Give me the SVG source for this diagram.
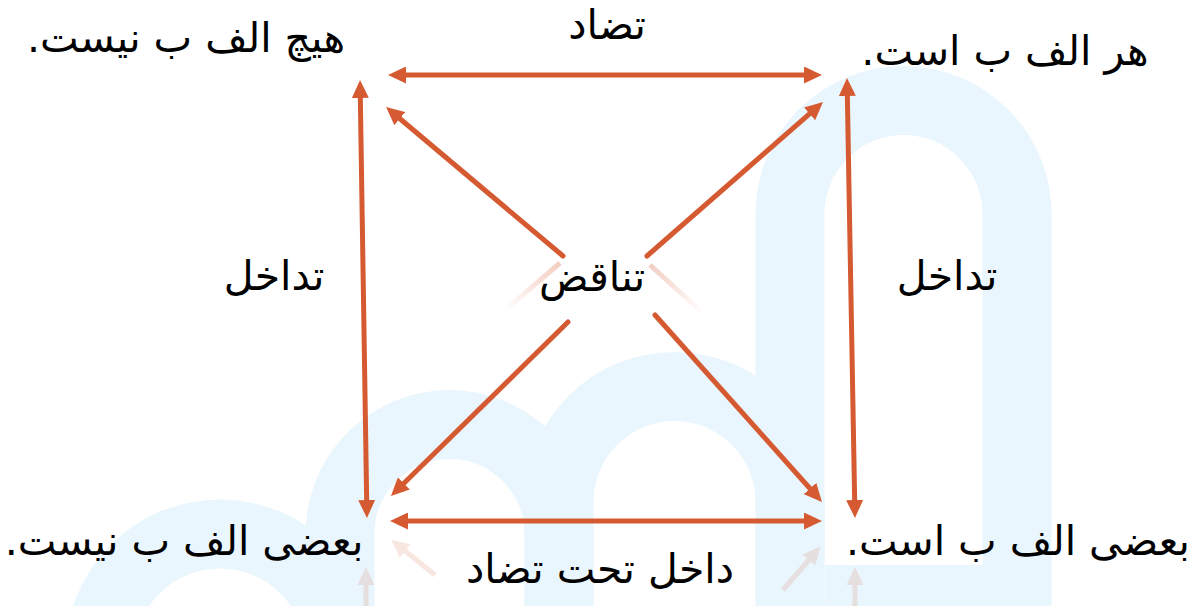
<svg xmlns="http://www.w3.org/2000/svg" width="1191" height="606" viewBox="0 0 1191 606">
<defs>
<style>
.wm{fill:none;stroke:#eaf6fd;stroke-width:69}
.ln{fill:none;stroke:#d55a31;stroke-width:5;stroke-linecap:round}
.faint{fill:none;stroke:#d55a31;stroke-width:5;opacity:0.14}
.t{font-family:"DejaVu Sans",sans-serif;font-size:41px;fill:#000;direction:rtl;text-anchor:middle}
</style>
<marker id="ah" viewBox="0 0 18 17" markerUnits="userSpaceOnUse" markerWidth="18" markerHeight="17" refX="8" refY="8.5" orient="auto-start-reverse">
<path d="M0,0 L18,8.5 L0,17 z" fill="#d55a31"/>
</marker>
<linearGradient id="gl" gradientUnits="userSpaceOnUse" x1="560" y1="263" x2="505" y2="310">
<stop offset="0" stop-color="#d55a31" stop-opacity="0.3"/>
<stop offset="1" stop-color="#d55a31" stop-opacity="0"/>
</linearGradient>
<linearGradient id="gr" gradientUnits="userSpaceOnUse" x1="650" y1="265" x2="703" y2="313">
<stop offset="0" stop-color="#d55a31" stop-opacity="0.3"/>
<stop offset="1" stop-color="#d55a31" stop-opacity="0"/>
</linearGradient>
</defs>
<rect width="1191" height="606" fill="#ffffff"/>
<g id="watermark">
<path class="wm" d="M100,640 V654 A120,120 0 0 1 340,654 V640"/>
<path class="wm" d="M340,640 V534 A109.5,109.5 0 0 1 559,534 V640"/>
<path class="wm" d="M559,640 V502 A115.5,115.5 0 0 1 790,502 V640"/>
<path class="wm" d="M790,640 V214 A113.5,113.5 0 0 1 1017,214 V640"/>
<rect x="825" y="565" width="160" height="41" fill="#eaf6fd"/>
</g>
<g id="connectors">
<path class="ln" d="M398,75 L812,75" marker-start="url(#ah)" marker-end="url(#ah)"/>
<path class="ln" d="M400,521 L812,521" marker-start="url(#ah)" marker-end="url(#ah)"/>
<path class="ln" d="M360.2,90 L366.8,508" marker-start="url(#ah)" marker-end="url(#ah)"/>
<path class="ln" d="M847.2,88 L854.8,508" marker-start="url(#ah)" marker-end="url(#ah)"/>
<path class="ln" d="M563,256 L393.7,113.5" marker-end="url(#ah)"/>
<path class="ln" d="M647,256 L815.5,108.6" marker-end="url(#ah)"/>
<path class="ln" d="M568,322 L398.1,489" marker-end="url(#ah)"/>
<path class="ln" d="M655,315 L815.3,494.5" marker-end="url(#ah)"/>
<path d="M560,263 L505,310" fill="none" stroke="url(#gl)" stroke-width="5"/>
<path d="M650,265 L703,313" fill="none" stroke="url(#gr)" stroke-width="5"/>
<path class="faint" d="M366,610 L366,577" marker-end="url(#ah)"/>
<path class="faint" d="M435,575 L399,546" marker-end="url(#ah)"/>
<path class="faint" d="M783,590 L814,554" marker-end="url(#ah)"/>
<path class="faint" d="M855,610 L855,577" marker-end="url(#ah)"/>
</g>
<g id="node-e"><text class="t" x="186" y="52">هیچ الف ب نیست.</text></g>
<g id="node-a"><text class="t" x="1005" y="65">هر الف ب است.</text></g>
<g id="node-o"><text class="t" x="184" y="555">بعضی الف ب نیست.</text></g>
<g id="node-i"><text class="t" x="1018" y="555">بعضی الف ب است.</text></g>
<g id="label-contrary"><text class="t" x="607" y="39">تضاد</text></g>
<g id="label-sub-left"><text class="t" x="274" y="290">تداخل</text></g>
<g id="label-sub-right"><text class="t" x="947" y="290">تداخل</text></g>
<g id="label-contradiction"><text class="t" x="592" y="291">تناقض</text></g>
<g id="label-subcontrary"><text class="t" x="600" y="583">داخل تحت تضاد</text></g>
</svg>
